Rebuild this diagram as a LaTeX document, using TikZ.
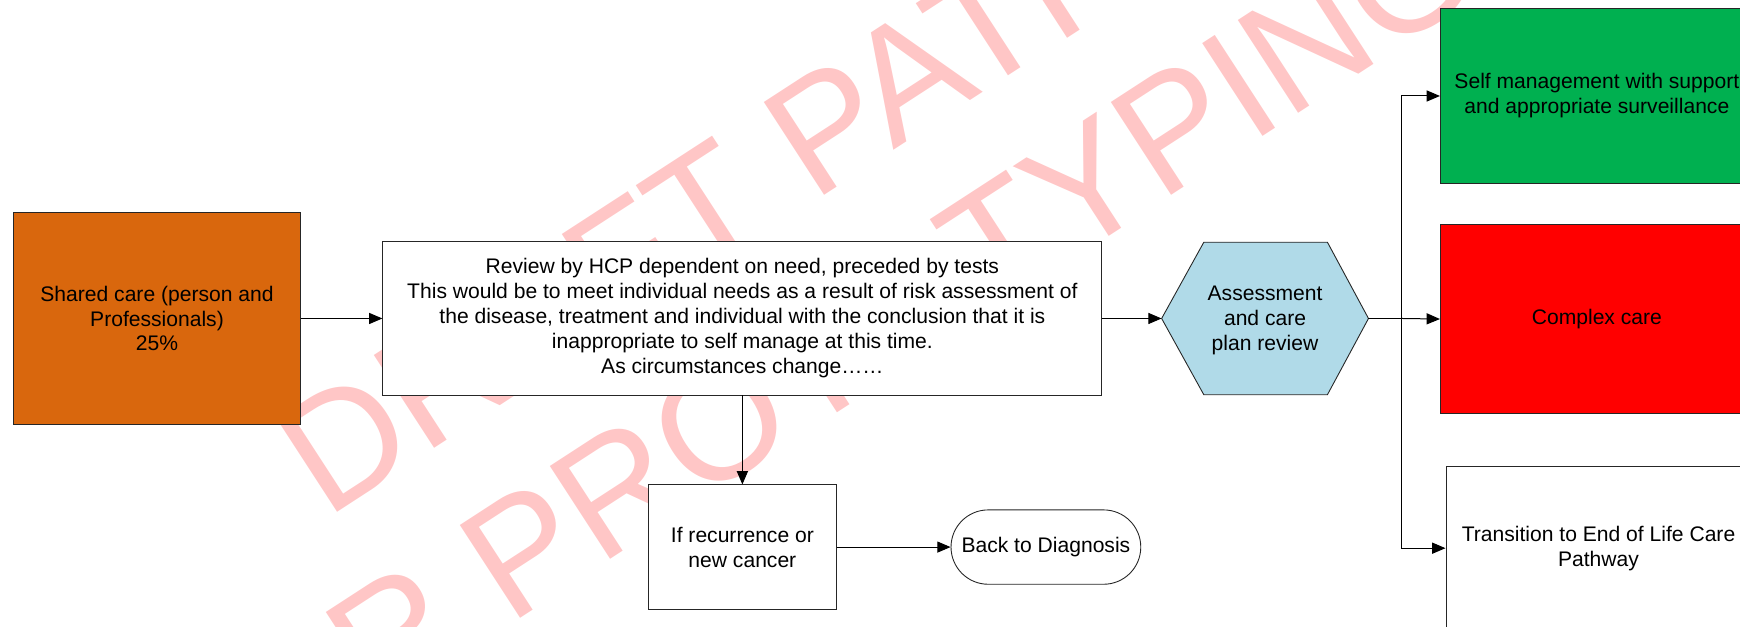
\documentclass[tikz,border=0pt]{standalone}
\usepackage{fontspec}
\setmainfont{Liberation Sans}
\usetikzlibrary{arrows.meta,calc}
\definecolor{orangefill}{RGB}{217,103,13}
\definecolor{greenfill}{RGB}{0,176,80}
\definecolor{redfill}{RGB}{255,0,0}
\definecolor{hexfill}{RGB}{176,218,232}
\definecolor{wmark}{RGB}{255,198,198}
\begin{document}
\begin{tikzpicture}[x=1pt,y=1pt,
  box/.style={draw=black!85, line width=0.8pt, align=center, inner sep=0pt,
    font=\fontsize{19}{22.5}\selectfont, text=black},
  lbl/.style={align=center, inner sep=0pt, font=\fontsize{19}{22.5}\selectfont, text=black},
  arr/.style={line width=0.9pt, -{Triangle[length=12pt,width=10pt]}},
  conn/.style={line width=0.9pt},
  wm/.style={font=\fontsize{145}{170}\selectfont, text=wmark, inner sep=0pt, anchor=base west, rotate=33}]
\useasboundingbox (0,0) rectangle (1568,565);
\clip (0,0) rectangle (1568,565);
% watermark
\node[wm] (wm1) at (294,97) {DRAFT PATHWAY};
\node[wm] (wm2) at (169,-187) {FOR PROTOTYPING};
% nodes
\node[box, fill=orangefill, minimum width=259pt, minimum height=191pt] (shared) at (141.5,278)
  {Shared care (person and\\Professionals)\\25\%};
\node[box, fill=white, minimum width=648pt, minimum height=138pt] (review) at (669,278)
  {Review by HCP dependent on need, preceded by tests\\This would be to meet individual needs as a result of risk assessment of\\the disease, treatment and individual with the conclusion that it is\\inappropriate to self manage at this time.\\As circumstances change……};
\node[minimum width=186pt, minimum height=137pt, inner sep=0pt] (hex) at (1140,278) {};
\draw[line width=0.8pt, draw=black!85, fill=hexfill] (hex.west) -- ($(hex.north west)+(38,0)$)
  -- ($(hex.north east)+(-37,0)$) -- (hex.east) -- ($(hex.south east)+(-37,0)$)
  -- ($(hex.south west)+(38,0)$) -- cycle;
\node[lbl] (hexlabel) at (1140,276) {Assessment\\and care\\plan review};
\node[box, fill=greenfill, minimum width=282pt, minimum height=157pt] (self) at (1439,478.5)
  {Self management with support\\and appropriate surveillance};
\node[box, fill=redfill, minimum width=282pt, minimum height=171pt] (complex) at (1439,277.5)
  {Complex care};
\node[box, fill=white, minimum width=275pt, minimum height=148pt] (eol) at (1440.5,71)
  {Transition to End of Life Care\\Pathway};
\node[box, fill=white, minimum width=169pt, minimum height=112pt] (recur) at (669,72)
  {If recurrence or\\new cancer};
\node[box, fill=white, minimum width=171pt, minimum height=67pt, rounded corners=33.5pt] (back) at (942.5,72)
  {Back to Diagnosis};
\coordinate (jn) at (1263,278);
% connectors
\draw[arr] (shared.east) -- (review.west);
\draw[arr] (review.east) -- (hex.west);
\draw[arr] (review.south) -- (recur.north);
\draw[arr] (recur.east) -- (back.west);
\draw[conn] (hex.east) -- (jn);
\draw[arr] (jn) |- (self.west);
\draw[arr] (jn) -- (complex.west);
\draw[arr] (jn) |- (eol.west);
\end{tikzpicture}
\end{document}
